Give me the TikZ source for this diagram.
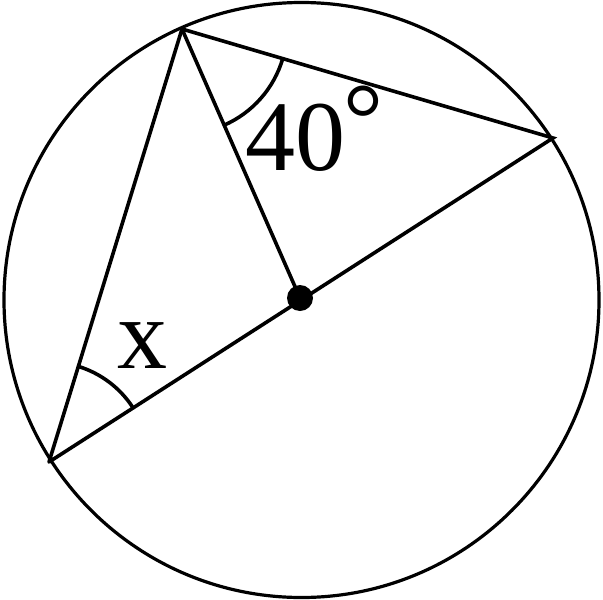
\documentclass[tikz,border=0pt]{standalone}
\usepackage{fontspec}
\setmainfont{Liberation Serif}
\usetikzlibrary{angles}

\begin{document}
\begin{tikzpicture}[x=1pt,y=-1pt,line width=3.6pt,line cap=round]
        \useasboundingbox (0,0) rectangle (603,600);
        \coordinate (M) at (301.5,300);
        \coordinate (O) at (300,298);
        \coordinate (A) at (182,29);
        \coordinate (B) at (553,138);
        \coordinate (C) at (49,462);
        \draw[line width=3.2pt] (M) circle (297.5);
        \draw (C)--(A)--(B)--(C);
        \draw (A)--(O);
        \fill (O) circle (13);
        \pic[draw,angle radius=105] {angle = O--A--B};
        \pic[draw,angle radius=100] {angle = O--C--A};
        \node[anchor=base,inner sep=0] (forty) at (295,170) {\fontsize{100}{100}\selectfont 40};
        \node[anchor=base,inner sep=0] (deg) at (363,152) {\fontsize{100}{100}\selectfont °};
        \node[anchor=base,inner sep=0] (ex) at (142,368) {\fontsize{100}{100}\selectfont x};
\end{tikzpicture}
\end{document}
